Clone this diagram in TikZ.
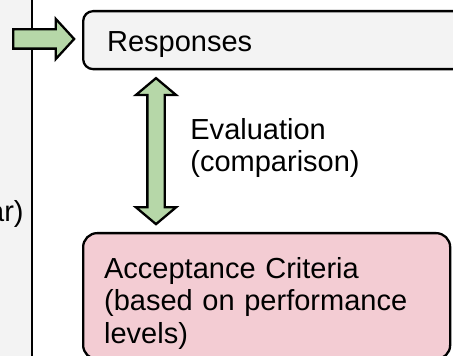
\documentclass[tikz,border=0pt]{standalone}
\usepackage{fontspec}
\setmainfont{Liberation Sans}
\usetikzlibrary{positioning, shapes.arrows, calc}
\definecolor{panelGrey}{HTML}{F3F3F3}
\definecolor{critPink}{HTML}{F3CCD3}
\definecolor{arrowGreen}{HTML}{B6D7A8}

\begin{document}
\begin{tikzpicture}[x=0.5pt, y=-0.5pt,
  every node/.style={font=\fontsize{14.5}{16.25}\selectfont, inner sep=0pt},
  box/.style={draw=black, line width=1.15pt, align=left, anchor=north west},
  fatarrow/.style={single arrow, draw=black, line width=1.15pt, fill=arrowGreen, inner ysep=4.25pt,
                   single arrow head extend=5.25pt, single arrow tip angle=95},
  fatboth/.style={double arrow, draw=black, line width=1.15pt, fill=arrowGreen, inner ysep=3.75pt,
                  double arrow head extend=5.75pt, double arrow tip angle=100}
]
\clip (0,0) rectangle (453,356);

% side panel on the left
\fill[panelGrey] (0,0) rectangle (32,356);
\draw[line width=1pt] (32,0) -- (32,356);
\node[anchor=base east] (prev) at (24,222) {ar)};

\node[box, fill=panelGrey, rounded corners=5pt, inner xsep=12pt, text width=171pt, minimum height=29pt,
      text height=11pt, text depth=0pt] (resp) at (82,10) {Responses};
\node[box, fill=critPink, rounded corners=7pt, inner xsep=10.5pt, text width=162.5pt, minimum height=63pt,
      text height=17.5pt, text depth=35.5pt] (crit) at (82,232) {Acceptance Criteria\\(based on performance\\levels)};

% feed into the responses
\coordinate (feedsrc) at (12,39);
\node[fatarrow, minimum height=30.5pt, anchor=tail] (feed) at (feedsrc) {};

% evaluation between responses and criteria
\coordinate (evalmid) at ($(resp.south)!.5!(crit.north)$);
\node[fatboth, rotate=90, minimum height=73pt] (eval) at (evalmid -| 156,0) {};
\node[anchor=west, align=left] (evaltxt) at (190,148) {Evaluation\\(comparison)};
\end{tikzpicture}
\end{document}
